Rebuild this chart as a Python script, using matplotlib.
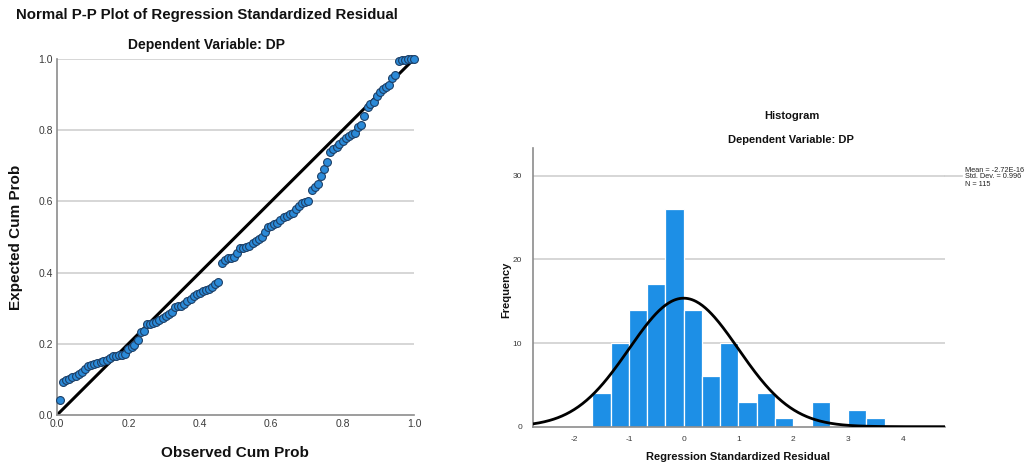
import numpy as np
import matplotlib
matplotlib.use("Agg")
import matplotlib.pyplot as plt

plt.rcParams["font.family"] = ["Liberation Sans", "DejaVu Sans"]
plt.rcParams["axes.unicode_minus"] = False

# ---- Normal P-P plot data ----
observed_cum_prob = [
    0.009, 0.017, 0.026, 0.035, 0.043, 0.052, 0.061, 0.070, 0.078, 0.087,
    0.096, 0.104, 0.113, 0.122, 0.130, 0.139, 0.148, 0.157, 0.165, 0.174,
    0.183, 0.191, 0.200, 0.209, 0.217, 0.226, 0.235, 0.243, 0.252, 0.261,
    0.270, 0.278, 0.287, 0.296, 0.304, 0.313, 0.322, 0.330, 0.339, 0.348,
    0.357, 0.365, 0.374, 0.383, 0.391, 0.400, 0.409, 0.417, 0.426, 0.435,
    0.443, 0.452, 0.461, 0.470, 0.478, 0.487, 0.496, 0.504, 0.513, 0.522,
    0.530, 0.539, 0.548, 0.557, 0.565, 0.574, 0.583, 0.591, 0.600, 0.609,
    0.617, 0.626, 0.635, 0.643, 0.652, 0.661, 0.670, 0.678, 0.687, 0.696,
    0.704, 0.713, 0.722, 0.730, 0.739, 0.748, 0.757, 0.765, 0.774, 0.783,
    0.791, 0.800, 0.809, 0.817, 0.826, 0.835, 0.843, 0.852, 0.861, 0.870,
    0.878, 0.887, 0.896, 0.904, 0.913, 0.922, 0.930, 0.939, 0.948, 0.957,
    0.965, 0.974, 0.983, 0.991, 1.000,
]
expected_cum_prob = [
    0.042, 0.092, 0.097, 0.102, 0.107, 0.110, 0.116, 0.122, 0.130, 0.137,
    0.140, 0.143, 0.145, 0.148, 0.151, 0.155, 0.160, 0.165, 0.166, 0.168,
    0.169, 0.172, 0.186, 0.192, 0.198, 0.211, 0.232, 0.237, 0.255, 0.257,
    0.259, 0.262, 0.266, 0.272, 0.277, 0.283, 0.290, 0.304, 0.305, 0.306,
    0.312, 0.319, 0.327, 0.335, 0.339, 0.343, 0.348, 0.351, 0.355, 0.360,
    0.368, 0.375, 0.426, 0.434, 0.440, 0.442, 0.445, 0.456, 0.468, 0.470,
    0.472, 0.474, 0.482, 0.488, 0.495, 0.500, 0.513, 0.528, 0.532, 0.536,
    0.540, 0.549, 0.557, 0.560, 0.564, 0.568, 0.578, 0.587, 0.595, 0.599,
    0.602, 0.632, 0.640, 0.650, 0.672, 0.690, 0.712, 0.740, 0.746, 0.754,
    0.762, 0.771, 0.778, 0.785, 0.789, 0.793, 0.808, 0.815, 0.840, 0.866,
    0.874, 0.878, 0.895, 0.908, 0.915, 0.920, 0.928, 0.946, 0.956, 0.995,
    0.997, 0.998, 0.999, 0.999, 1.000,
]
pp_ticks = [0.0, 0.2, 0.4, 0.6, 0.8, 1.0]

# ---- Histogram data ----
bin_width = 1 / 3
bin_counts = [4, 10, 14, 17, 26, 14, 6, 10, 3, 4, 1, 0, 3, 0, 2, 1]
bin_start = -5 / 3
hist_mean = -2.72e-16
hist_sd = 0.996
hist_n = 115
hist_xticks = [-2, -1, 0, 1, 2, 3, 4]
hist_yticks = [0, 10, 20, 30]

W, H = 1033, 465
fig = plt.figure(figsize=(W / 100, H / 100), dpi=100)

def fx(px):
    return px / W

def fy(py):
    return 1 - py / H

grid_col = "#cfcfcf"
spine_col = "#8c8c8c"
tick_col = "#3a3a3a"

# ---------------- P-P plot ----------------
ax1 = fig.add_axes([fx(57), fy(415), (414 - 57) / W, (415 - 59) / H])
ax1.set_xlim(0, 1)
ax1.set_ylim(0, 1)
for t in pp_ticks[1:]:
    ax1.axhline(t, color=grid_col, lw=1.2, zorder=0)
ax1.plot([0, 1], [0, 1], color="black", lw=2.2, zorder=2, solid_capstyle="butt")
ax1.scatter(observed_cum_prob, expected_cum_prob, s=32, facecolor="#2b8ad8",
            edgecolor="#1d3f66", linewidth=0.8, zorder=3, clip_on=False)
ax1.set_xticks(pp_ticks)
ax1.set_yticks(pp_ticks)
ax1.set_xticklabels([f"{t:.1f}" for t in pp_ticks])
ax1.set_yticklabels([f"{t:.1f}" for t in pp_ticks])
ax1.tick_params(length=0, labelsize=7.5, colors=tick_col, pad=3)
for s in ["top", "right"]:
    ax1.spines[s].set_visible(False)
for s in ["left", "bottom"]:
    ax1.spines[s].set_color(spine_col)
    ax1.spines[s].set_linewidth(1.2)

fig.text(fx(207), fy(15), "Normal P-P Plot of Regression Standardized Residual",
         ha="center", va="center", fontsize=10.8, fontweight="bold", color="#111111")
fig.text(fx(207), fy(45), "Dependent Variable: DP", ha="center", va="center",
         fontsize=10, fontweight="bold", color="#111111")
fig.text(fx(16), fy(237), "Expected Cum Prob", ha="center", va="center",
         rotation=90, fontsize=11, fontweight="bold", color="#111111")
fig.text(fx(235), fy(453), "Observed Cum Prob", ha="center", va="center",
         fontsize=11, fontweight="bold", color="#111111")

# ---------------- Histogram ----------------
ax2 = fig.add_axes([fx(533), fy(426.7), (945 - 533) / W, (426.7 - 148) / H])
ax2.set_xlim(-2.75, 4.77)
ax2.set_ylim(0, 33.3)
for t in hist_yticks[1:]:
    ax2.axhline(t, color=grid_col, lw=1.2, zorder=0)
lefts = bin_start + bin_width * np.arange(len(bin_counts))
ax2.bar(lefts, bin_counts, width=bin_width, align="edge", color="#1d8fe6",
        edgecolor="white", linewidth=0.9, zorder=2)
xs = np.linspace(-2.75, 4.77, 400)
curve = hist_n * bin_width / (hist_sd * np.sqrt(2 * np.pi)) * \
    np.exp(-0.5 * ((xs - hist_mean) / hist_sd) ** 2)
ax2.plot(xs, curve, color="black", lw=2.0, zorder=3)
ax2.set_xticks(hist_xticks)
ax2.set_yticks(hist_yticks)
ax2.tick_params(length=0, labelsize=6, colors=tick_col, pad=7)
ax2.tick_params(axis="y", pad=8)
for s in ["top", "right"]:
    ax2.spines[s].set_visible(False)
for s in ["left", "bottom"]:
    ax2.spines[s].set_color(spine_col)
    ax2.spines[s].set_linewidth(1.2)

# gridline at 30 runs on to the statistics box
y30 = fy(176.0)
fig.add_artist(plt.Line2D([fx(945), fx(962)], [y30, y30], color=grid_col, lw=1.2))
stats = f"Mean = {hist_mean:.2E}\nStd. Dev. = {hist_sd:.3f}\nN = {hist_n}"
fig.text(fx(965), fy(177), stats, ha="left", va="center", fontsize=5.3,
         color="#222222", linespacing=1.0)

fig.text(fx(792), fy(116), "Histogram", ha="center", va="center",
         fontsize=8, fontweight="bold", color="#111111")
fig.text(fx(791), fy(140), "Dependent Variable: DP", ha="center", va="center",
         fontsize=8, fontweight="bold", color="#111111")
fig.text(fx(506), fy(290), "Frequency", ha="center", va="center", rotation=90,
         fontsize=8, fontweight="bold", color="#111111")
fig.text(fx(738), fy(457), "Regression Standardized Residual", ha="center",
         va="center", fontsize=8, fontweight="bold", color="#111111")

fig.savefig("out.png", dpi=100)
